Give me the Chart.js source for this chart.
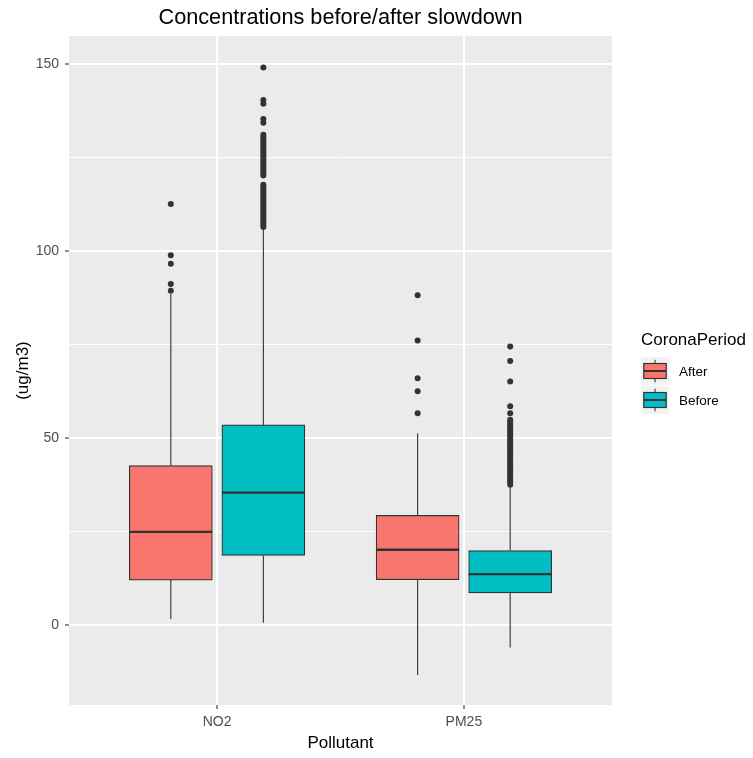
<!DOCTYPE html>
<html>
<head>
<meta charset="utf-8">
<script src="https://cdn.jsdelivr.net/npm/chart.js@4.4.1/dist/chart.umd.min.js"></script>
<style>
  html, body { margin: 0; padding: 0; background: #ffffff; }
  #wrap { width: 753px; height: 758px; position: relative; }
</style>
</head>
<body>
<div id="wrap"><canvas id="boxChart"></canvas></div>
<script>
const FONT = "'Liberation Sans', Arial, sans-serif";

const pollutants = ["NO2", "PM25"];
const periods = ["After", "Before"];
const periodColors = ["#F8766D", "#00BFC4"];

// box stats, one value per pollutant (NO2, PM25)
const afterLower = [1.6, -13.4];
const afterQ1 = [12.0, 12.1];
const afterMedian = [24.9, 20.1];
const afterQ3 = [42.6, 29.3];
const afterUpper = [88.5, 51.3];

const beforeLower = [0.6, -6.0];
const beforeQ1 = [18.6, 8.6];
const beforeMedian = [35.4, 13.6];
const beforeQ3 = [53.5, 19.9];
const beforeUpper = [105.8, 36.8];

// outliers
const no2AfterOutliers = [89.4, 91.2, 96.6, 98.9, 112.6];
const no2BeforeOutliers = [
  106.4, 107.0, 107.6, 108.2, 108.8, 109.4, 110.0, 110.6, 111.2, 111.8,
  112.4, 113.0, 113.6, 114.2, 114.8, 115.4, 116.0, 116.6, 117.2, 117.7,
  120.2, 120.8, 121.4, 122.0, 122.6, 123.2, 123.8, 124.4, 125.0, 125.6,
  126.2, 126.8, 127.4, 128.0, 128.6, 129.2, 129.8, 130.4, 131.1,
  134.3, 135.3, 139.4, 140.4, 149.1
];
const pm25AfterOutliers = [56.6, 62.5, 66.0, 76.1, 88.2];
const pm25BeforeOutliers = [
  37.5, 38.1, 38.7, 39.3, 39.9, 40.5, 41.1, 41.7, 42.3, 42.9,
  43.5, 44.1, 44.7, 45.3, 45.9, 46.5, 47.1, 47.7, 48.3, 48.9,
  49.5, 50.1, 50.7, 51.3, 51.9, 52.5, 53.1, 53.7, 54.3, 54.9,
  56.6, 58.5, 65.1, 70.6, 74.5
];

const yTicks = [0, 25, 50, 75, 100, 125, 150];

const boxStats = [
  { lower: afterLower, q1: afterQ1, median: afterMedian, q3: afterQ3, upper: afterUpper },
  { lower: beforeLower, q1: beforeQ1, median: beforeMedian, q3: beforeQ3, upper: beforeUpper }
];
const outliers = [
  [no2AfterOutliers, pm25AfterOutliers],
  [no2BeforeOutliers, pm25BeforeOutliers]
];

const DODGE = 0.1875;
const xPos = (cat, period) => cat + 1 + (period === 0 ? -DODGE : DODGE);

const INK = "#333333";

const boxDatasets = periods.map((name, p) => ({
  type: "bar",
  label: name,
  data: pollutants.map((_, i) => ({ x: xPos(i, p), y: [boxStats[p].q1[i], boxStats[p].q3[i]] })),
  backgroundColor: periodColors[p],
  borderColor: INK,
  borderWidth: 1.2,
  borderSkipped: false,
  grouped: false,
  barThickness: 83,
  order: 2
}));

const outlierDatasets = [];
periods.forEach((name, p) => {
  pollutants.forEach((_, i) => {
    outlierDatasets.push({
      type: "scatter",
      label: name + " outliers",
      data: outliers[p][i].map((v) => ({ x: xPos(i, p), y: v })),
      pointRadius: 3,
      pointHoverRadius: 3,
      backgroundColor: INK,
      borderWidth: 0,
      order: 1
    });
  });
});

// panel background
const panelBg = {
  id: "panelBg",
  beforeDraw(chart) {
    const { ctx, chartArea: a } = chart;
    ctx.save();
    ctx.fillStyle = "#EBEBEB";
    ctx.fillRect(a.left, a.top, a.right - a.left, a.bottom - a.top);
    ctx.restore();
  }
};

// whiskers and medians, placed with the chart scales
const whiskers = {
  id: "whiskers",
  beforeDatasetsDraw(chart) {
    const { ctx } = chart;
    const y = chart.scales.y;
    ctx.save();
    ctx.strokeStyle = INK;
    ctx.lineWidth = 1.1;
    periods.forEach((_, p) => {
      const meta = chart.getDatasetMeta(p);
      meta.data.forEach((el, i) => {
        const s = boxStats[p];
        ctx.beginPath();
        ctx.moveTo(el.x, y.getPixelForValue(s.upper[i]));
        ctx.lineTo(el.x, y.getPixelForValue(s.q3[i]));
        ctx.moveTo(el.x, y.getPixelForValue(s.q1[i]));
        ctx.lineTo(el.x, y.getPixelForValue(s.lower[i]));
        ctx.stroke();
      });
    });
    ctx.restore();
  },
  afterDatasetsDraw(chart) {
    const { ctx } = chart;
    const y = chart.scales.y;
    ctx.save();
    ctx.strokeStyle = INK;
    ctx.lineWidth = 2.4;
    periods.forEach((_, p) => {
      const meta = chart.getDatasetMeta(p);
      meta.data.forEach((el, i) => {
        const py = y.getPixelForValue(boxStats[p].median[i]);
        ctx.beginPath();
        ctx.moveTo(el.x - el.width / 2, py);
        ctx.lineTo(el.x + el.width / 2, py);
        ctx.stroke();
      });
    });
    ctx.restore();
  }
};

// ggplot-like legend on the right
const boxLegend = {
  id: "boxLegend",
  afterDraw(chart) {
    const { ctx } = chart;
    const left = chart.chartArea.right + 29;
    ctx.save();
    ctx.fillStyle = "#000000";
    ctx.textBaseline = "middle";
    ctx.textAlign = "left";
    ctx.font = "17px " + FONT;
    ctx.fillText("CoronaPeriod", left, 340);
    periods.forEach((name, p) => {
      const top = 357 + p * 29;
      const k = 28;
      ctx.fillStyle = "#F2F2F2";
      ctx.fillRect(left, top, k, k);
      const cx = left + k / 2;
      ctx.strokeStyle = INK;
      ctx.lineWidth = 1.1;
      ctx.beginPath();
      ctx.moveTo(cx, top + 2.8);
      ctx.lineTo(cx, top + k - 2.8);
      ctx.stroke();
      ctx.fillStyle = periodColors[p];
      ctx.fillRect(left + 2.8, top + 6.5, k - 5.6, k - 13);
      ctx.lineWidth = 1.2;
      ctx.strokeRect(left + 2.8, top + 6.5, k - 5.6, k - 13);
      ctx.lineWidth = 2;
      ctx.beginPath();
      ctx.moveTo(left + 2.8, top + k / 2);
      ctx.lineTo(left + k - 2.8, top + k / 2);
      ctx.stroke();
      ctx.fillStyle = "#000000";
      ctx.font = "13.5px " + FONT;
      ctx.fillText(name, left + k + 10, top + k / 2 + 1);
    });
    ctx.restore();
  }
};

Chart.defaults.font.family = FONT;

new Chart(document.getElementById("boxChart"), {
  type: "bar",
  data: { datasets: [...boxDatasets, ...outlierDatasets] },
  options: {
    responsive: true,
    maintainAspectRatio: false,
    animation: false,
    layout: { padding: { left: 0, right: 141, top: 0, bottom: 0 } },
    plugins: {
      legend: { display: false },
      tooltip: { enabled: false },
      title: {
        display: true,
        fullSize: false,
        text: "Concentrations before/after slowdown",
        color: "#000000",
        font: { size: 21.7, weight: "normal" },
        padding: { top: 5, bottom: 5 }
      }
    },
    scales: {
      x: {
        type: "linear",
        min: 0.4,
        max: 2.6,
        offset: false,
        afterBuildTicks: (axis) => {
          axis.ticks = pollutants.map((_, i) => ({ value: i + 1 }));
        },
        afterFit: (axis) => { axis.height = 53; },
        ticks: {
          callback: (v) => pollutants[v - 1],
          color: "#4D4D4D",
          font: { size: 14 },
          padding: 5,
          maxRotation: 0
        },
        grid: {
          offset: false,
          color: "#FFFFFF",
          lineWidth: 2,
          tickColor: INK,
          tickLength: 4,
          tickWidth: 1.1
        },
        border: { display: false },
        title: {
          display: true,
          text: "Pollutant",
          color: "#000000",
          font: { size: 17 },
          padding: { top: 0, bottom: 4 }
        }
      },
      y: {
        type: "linear",
        min: -21.4,
        max: 157.5,
        afterBuildTicks: (axis) => {
          axis.ticks = yTicks.map((v) => ({ value: v }));
        },
        afterFit: (axis) => { axis.width = 69; },
        ticks: {
          callback: (v) => (v % 50 === 0 ? String(v) : ""),
          color: "#4D4D4D",
          font: { size: 14 },
          padding: 6
        },
        grid: {
          color: "#FFFFFF",
          lineWidth: (c) => (c.tick && c.tick.value % 50 === 0 ? 2 : 1),
          tickColor: (c) => (c.tick && c.tick.value % 50 === 0 ? INK : "rgba(0,0,0,0)"),
          tickLength: 4,
          tickWidth: 1.1
        },
        border: { display: false },
        title: {
          display: true,
          text: "(ug/m3)",
          color: "#000000",
          font: { size: 17 },
          padding: { top: 13, bottom: 0 }
        }
      }
    }
  },
  plugins: [panelBg, whiskers, boxLegend]
});
</script>
</body>
</html>
